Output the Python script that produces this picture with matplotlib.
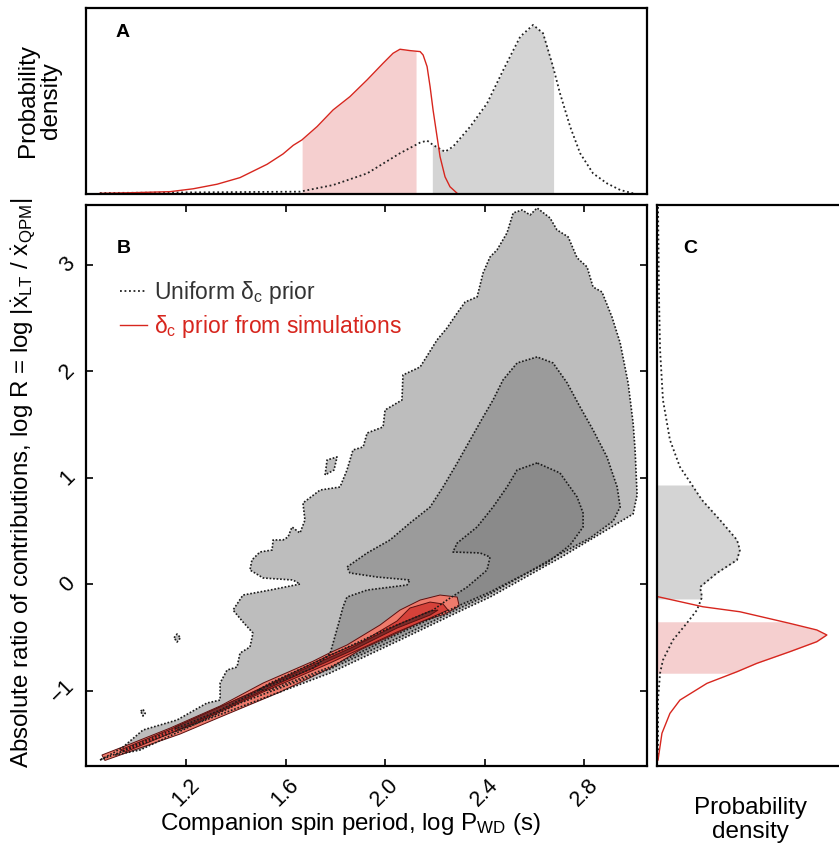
import matplotlib
matplotlib.use('Agg')
import matplotlib.pyplot as plt
import numpy as np
from matplotlib.lines import Line2D

plt.rcParams['font.family'] = ['Liberation Sans', 'DejaVu Sans']
plt.rcParams['mathtext.fontset'] = 'custom'
plt.rcParams['mathtext.rm'] = 'Liberation Sans'
plt.rcParams['mathtext.it'] = 'Liberation Sans:italic'

# ---------------- data ----------------
# Panel A: marginal density of log P_WD
a_red_x = [0.854, 0.988, 1.136, 1.229, 1.325, 1.417, 1.526, 1.590, 1.631, 1.666,
           1.727, 1.791, 1.859, 1.928, 1.992, 2.032, 2.060, 2.100, 2.141, 2.153,
           2.169, 2.181, 2.193, 2.209, 2.221, 2.241, 2.261, 2.290]
a_red_d = [0.004, 0.008, 0.014, 0.031, 0.058, 0.097, 0.176, 0.237, 0.288, 0.320,
           0.399, 0.497, 0.576, 0.675, 0.773, 0.832, 0.856, 0.848, 0.842, 0.822,
           0.753, 0.635, 0.497, 0.339, 0.221, 0.102, 0.043, 0.004]
a_red_band = [1.666, 2.125]

a_uni_x = [0.854, 1.658, 1.791, 1.928, 2.060, 2.141, 2.169, 2.193, 2.241, 2.273,
           2.342, 2.410, 2.474, 2.543, 2.595, 2.635, 2.675, 2.703, 2.744, 2.784,
           2.836, 2.892, 2.945, 2.997]
a_uni_d = [0.006, 0.014, 0.053, 0.122, 0.241, 0.304, 0.316, 0.290, 0.250, 0.280,
           0.398, 0.536, 0.730, 0.930, 1.000, 0.951, 0.754, 0.596, 0.398, 0.241,
           0.122, 0.063, 0.024, 0.004]
a_uni_band = [2.190, 2.678]

# Panel C: marginal density of log R
c_red_y = [-0.115, -0.209, -0.256, -0.365, -0.427, -0.474, -0.537, -0.631, -0.740,
           -0.819, -0.928, -1.085, -1.210, -1.397, -1.648]
c_red_d = [0.006, 0.27, 0.488, 0.782, 0.941, 1.0, 0.941, 0.782, 0.588,
           0.471, 0.294, 0.135, 0.076, 0.029, 0.006]
c_red_band = [-0.834, -0.349]

c_uni_y = [3.544, 2.671, 2.202, 1.732, 1.357, 1.103, 0.934, 0.821, 0.793, 0.605,
           0.418, 0.324, 0.230, 0.108, -0.024, -0.118, -0.240, -0.362, -0.521,
           -0.709, -0.831, -1.085, -1.648]
c_uni_d = [0.006, 0.012, 0.018, 0.035, 0.076, 0.135, 0.206, 0.253, 0.265, 0.371,
           0.471, 0.488, 0.471, 0.353, 0.253, 0.265, 0.235, 0.176, 0.094,
           0.035, 0.018, 0.006, 0.006]
c_uni_band = [-0.136, 0.934]

# Panel B: credible-region outlines (log P_WD, log R)
uni_lvl1 = [(0.854, -1.648), (1.043, -1.479), (1.417, -1.151), (1.779, -0.831),
            (2.060, -0.521), (2.302, -0.249), (2.422, -0.118), (2.703, 0.250),
            (2.864, 0.475), (2.997, 0.662), (3.013, 0.840), (3.005, 1.263),
            (2.997, 1.516), (2.977, 1.892), (2.945, 2.268), (2.912, 2.512),
            (2.872, 2.746), (2.836, 2.793), (2.812, 2.981), (2.772, 3.066),
            (2.736, 3.263), (2.691, 3.329), (2.663, 3.441), (2.611, 3.535),
            (2.583, 3.469), (2.551, 3.516), (2.515, 3.488), (2.490, 3.300),
            (2.450, 3.141), (2.422, 3.075), (2.394, 2.925), (2.370, 2.700),
            (2.322, 2.652), (2.290, 2.549), (2.249, 2.408), (2.209, 2.296),
            (2.141, 2.042), (2.072, 1.967), (2.068, 1.732), (2.000, 1.638),
            (1.992, 1.479), (1.928, 1.422), (1.912, 1.291), (1.871, 1.263),
            (1.847, 1.075), (1.819, 0.915), (1.739, 0.887), (1.670, 0.765),
            (1.678, 0.605), (1.658, 0.483), (1.626, 0.540), (1.610, 0.446),
            (1.590, 0.418), (1.550, 0.418), (1.546, 0.324), (1.497, 0.305),
            (1.465, 0.230), (1.457, 0.136), (1.510, 0.061), (1.630, 0.042),
            (1.658, 0.004), (1.538, -0.052), (1.429, -0.099), (1.389, -0.240),
            (1.429, -0.352), (1.469, -0.456), (1.457, -0.587), (1.417, -0.644),
            (1.405, -0.775), (1.365, -0.803), (1.337, -0.925), (1.337, -1.085),
            (1.284, -1.113), (1.164, -1.272), (1.027, -1.366), (0.947, -1.526),
            (0.907, -1.582)]
uni_specks = [
    [(1.152, -0.50), (1.164, -0.465), (1.178, -0.50), (1.164, -0.54)],
    [(1.759, 1.028), (1.767, 1.169), (1.807, 1.197), (1.795, 1.075)],
    [(1.018, -1.19), (1.027, -1.17), (1.036, -1.21), (1.027, -1.235)],
]
uni_lvl2 = [(2.611, 2.136), (2.531, 2.080), (2.474, 1.920), (2.434, 1.732),
            (2.394, 1.572), (2.342, 1.357), (2.290, 1.141), (2.233, 0.915),
            (2.181, 0.727), (2.100, 0.577), (2.020, 0.418), (1.928, 0.296),
            (1.847, 0.164), (1.859, 0.108), (1.968, 0.070), (2.100, 0.042),
            (2.088, -0.005), (1.928, -0.052), (1.847, -0.118), (1.831, -0.211),
            (1.815, -0.352), (1.779, -0.650), (1.711, -0.784), (1.510, -0.972),
            (1.337, -1.179), (1.136, -1.376), (0.975, -1.526), (0.915, -1.601),
            (1.015, -1.554), (1.417, -1.113), (1.779, -0.794), (2.060, -0.493),
            (2.302, -0.221), (2.422, -0.089), (2.571, 0.108), (2.703, 0.286),
            (2.824, 0.436), (2.917, 0.596), (2.945, 0.727), (2.933, 0.915),
            (2.892, 1.197), (2.836, 1.451), (2.784, 1.666), (2.732, 1.892),
            (2.675, 2.080)]
uni_lvl3 = [(2.611, 1.141), (2.531, 1.075), (2.490, 0.915), (2.434, 0.727),
            (2.370, 0.540), (2.290, 0.389), (2.273, 0.305), (2.382, 0.296),
            (2.422, 0.258), (2.410, 0.136), (2.330, -0.024), (2.249, -0.146),
            (2.193, -0.240), (1.980, -0.446), (1.739, -0.709), (1.538, -0.925),
            (1.490, -0.991), (1.538, -0.991), (1.779, -0.775), (2.060, -0.456),
            (2.302, -0.193), (2.422, -0.071), (2.531, 0.061), (2.651, 0.202),
            (2.744, 0.371), (2.796, 0.540), (2.796, 0.671), (2.772, 0.821),
            (2.703, 1.047)]

sim_lvl1 = [(0.862, -1.601), (0.975, -1.498), (1.136, -1.348), (1.337, -1.141),
            (1.510, -0.925), (1.711, -0.720), (1.779, -0.640), (1.847, -0.568),
            (1.980, -0.380), (2.060, -0.240), (2.141, -0.146), (2.221, -0.099),
            (2.290, -0.118), (2.298, -0.202), (2.241, -0.277), (2.141, -0.352),
            (2.048, -0.456), (1.899, -0.615), (1.779, -0.785), (1.578, -1.010),
            (1.337, -1.245), (1.176, -1.404), (1.015, -1.535), (0.874, -1.652)]
sim_lvl2 = [(0.935, -1.554), (1.256, -1.244), (1.510, -0.963), (1.779, -0.662),
            (1.912, -0.531), (2.048, -0.343), (2.100, -0.221), (2.181, -0.165),
            (2.233, -0.183), (2.253, -0.240), (2.181, -0.315), (2.048, -0.446),
            (1.779, -0.737), (1.510, -1.009), (1.256, -1.282), (0.955, -1.573)]
sim_lvl3 = [(1.156, -1.338), (1.550, -0.925), (1.871, -0.587), (2.048, -0.380),
            (2.181, -0.249), (2.213, -0.240), (2.181, -0.287), (2.048, -0.409),
            (1.871, -0.615), (1.550, -0.953), (1.168, -1.366)]

x_ticks = [1.2, 1.6, 2.0, 2.4, 2.8]
x_ticklabels = ['1.2', '1.6', '2.0', '2.4', '2.8']
y_ticks = [-1, 0, 1, 2, 3]
y_ticklabels = ['\u22121', '0', '1', '2', '3']

legend_labels = ['Uniform δ$_{\\rm c}$ prior', 'δ$_{\\rm c}$ prior from simulations']

# ---------------- styles ----------------
RED = '#d7261e'
PINK = '#f5cfcf'
LGRAY = '#d4d4d4'
G1, G2, G3 = '#bdbdbd', '#9b9b9b', '#8a8a8a'
R1, R2, R3 = '#ef7b6c', '#d6423a', '#7a2e2c'
DOT = (0, (1.0, 1.1))
DOTM = (0, (1.0, 1.5))
XLIM = (0.798, 3.053)
YLIM = (-1.704, 3.563)

fig = plt.figure(figsize=(8.39, 8.48), dpi=100)
axA = fig.add_axes([0.1025, 0.7712, 0.6687, 0.2194])
axB = fig.add_axes([0.1025, 0.0967, 0.6687, 0.6616])
axC = fig.add_axes([0.7831, 0.0967, 0.25, 0.6616])

for ax in (axA, axB, axC):
    for s in ax.spines.values():
        s.set_linewidth(1.6)

# ---- Panel A ----
gx = np.linspace(XLIM[0], XLIM[1], 2000)
ry = np.interp(gx, a_red_x, a_red_d, left=0, right=0)
uy = np.interp(gx, a_uni_x, a_uni_d, left=0, right=0)
m = (gx >= a_red_band[0]) & (gx <= a_red_band[1])
axA.fill_between(gx[m], 0, ry[m], color=PINK, lw=0)
m = (gx >= a_uni_band[0]) & (gx <= a_uni_band[1])
axA.fill_between(gx[m], 0, uy[m], color=LGRAY, lw=0)
axA.plot(a_uni_x, a_uni_d, ls=DOTM, color='#222222', lw=1.3)
axA.plot(a_red_x, a_red_d, color=RED, lw=1.0)
axA.set_xlim(XLIM)
axA.set_ylim(0, 1.10)
axA.set_xticks([])
axA.set_yticks([])
axA.text(0.053, 0.866, 'A', transform=axA.transAxes, fontsize=14,
         fontweight='bold', ha='left', va='center')

# ---- Panel B ----
axB.fill(*zip(*uni_lvl1), color=G1, lw=0, zorder=1)
for sp in uni_specks:
    axB.fill(*zip(*sp), color=G1, lw=0, zorder=1)
axB.fill(*zip(*uni_lvl2), color=G2, lw=0, zorder=2)
axB.fill(*zip(*uni_lvl3), color=G3, lw=0, zorder=3)
for poly, col in ((sim_lvl1, R1), (sim_lvl2, R2), (sim_lvl3, R3)):
    axB.fill(*zip(*poly), facecolor=col, edgecolor='#5a1010', lw=0.7, zorder=4)
for poly in [uni_lvl1, uni_lvl2, uni_lvl3] + uni_specks:
    xs, ys = zip(*(poly + poly[:1]))
    axB.plot(xs, ys, ls=DOT, color='#1a1a1a', lw=1.2, zorder=5)

axB.set_xlim(XLIM)
axB.set_ylim(YLIM)
axB.set_xticks(x_ticks)
axB.set_xticklabels(x_ticklabels, rotation=45, ha='center', va='top')
axB.set_yticks(y_ticks)
axB.set_yticklabels(y_ticklabels, rotation=45, ha='right', va='center')
axB.tick_params(direction='in', length=5, width=1.2, labelsize=15.5,
                right=True, top=True, pad=5)
axB.tick_params(axis='x', pad=6)

handles = [Line2D([], [], ls=DOTM, color='#222222', lw=1.3),
           Line2D([], [], color=RED, lw=1.0)]
leg = axB.legend(handles, legend_labels, loc='upper left',
                 bbox_to_anchor=(0.045, 0.885), frameon=False, fontsize=16.5,
                 handlelength=1.15, handletextpad=0.3, labelspacing=0.3,
                 borderaxespad=0)
leg.get_texts()[0].set_color('#333333')
leg.get_texts()[1].set_color(RED)
axB.text(0.055, 0.922, 'B', transform=axB.transAxes, fontsize=14,
         fontweight='bold', ha='left', va='center')

# ---- Panel C ----
gy = np.linspace(YLIM[0], YLIM[1], 3000)
cr = np.interp(gy, c_red_y[::-1], c_red_d[::-1], left=0, right=0)
cu = np.interp(gy, c_uni_y[::-1], c_uni_d[::-1], left=0, right=0)
m = (gy >= c_red_band[0]) & (gy <= c_red_band[1])
axC.fill_betweenx(gy[m], 0, cr[m], color=PINK, lw=0)
m = (gy >= c_uni_band[0]) & (gy <= c_uni_band[1])
axC.fill_betweenx(gy[m], 0, cu[m], color=LGRAY, lw=0)
axC.plot(c_uni_d, c_uni_y, ls=DOTM, color='#222222', lw=1.3)
axC.plot(c_red_d, c_red_y, color=RED, lw=1.0)
axC.set_ylim(YLIM)
axC.set_xlim(0, 1.235)
axC.set_xticks([])
axC.set_yticks([])
axC.text(0.124, 0.923, 'C', transform=axC.transAxes, fontsize=14,
         fontweight='bold', ha='left', va='center')

# ---- labels ----
fig.text(0.418, 0.028, 'Companion spin period, log P$_{\\rm WD}$ (s)',
         ha='center', va='center', fontsize=17.4)
fig.text(0.0275, 0.4305,
         'Absolute ratio of contributions, log R = log |$\\dot{\\rm x}_{\\rm LT}$ / $\\dot{\\rm x}_{\\rm QPM}$|',
         ha='center', va='center', rotation=90, fontsize=17.4)
fig.text(0.047, 0.882, 'Probability\ndensity', ha='center', va='center',
         rotation=90, fontsize=17.5, linespacing=1.1)
fig.text(0.894, 0.033, 'Probability\ndensity', ha='center', va='center',
         fontsize=17.5, linespacing=1.1)

fig.savefig('out.png', dpi=100)
